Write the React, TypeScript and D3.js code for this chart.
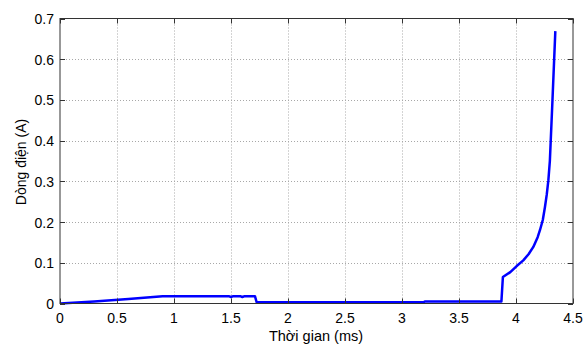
import React from "react";
import * as d3 from "d3";

const timeMs: number[] = [0, 0.3, 0.6, 0.9, 1.2, 1.48, 1.5, 1.52, 1.58, 1.6, 1.62, 1.68, 1.71, 1.725, 2.0, 2.5, 3.0, 3.19, 3.2, 3.5, 3.872, 3.885, 3.95, 4.006, 4.064, 4.11, 4.152, 4.19, 4.21, 4.235, 4.254, 4.27, 4.284, 4.297, 4.32, 4.345];
const currentA: number[] = [0, 0.005, 0.011, 0.018, 0.018, 0.018, 0.016, 0.018, 0.018, 0.016, 0.018, 0.018, 0.018, 0.003, 0.003, 0.003, 0.003, 0.003, 0.005, 0.005, 0.005, 0.065, 0.077, 0.092, 0.106, 0.121, 0.139, 0.163, 0.18, 0.205, 0.237, 0.268, 0.303, 0.35, 0.5, 0.669];
const xTicks: number[] = [0, 0.5, 1, 1.5, 2, 2.5, 3, 3.5, 4, 4.5];
const yTicks: number[] = [0, 0.1, 0.2, 0.3, 0.4, 0.5, 0.6, 0.7];
const xLabel = "Thời gian (ms)";
const yLabel = "Dòng điện (A)";

export default function App() {
  const W = 583, H = 345;
  const L = 60, R = 573, T = 18.5, B = 303.5;
  const x = d3.scaleLinear().domain([0, 4.5]).range([L, R]);
  const y = d3.scaleLinear().domain([0, 0.7]).range([B, T]);
  const pts: [number, number][] = timeMs.map((t, i) => [t, currentA[i]]);
  const line = d3.line<[number, number]>().x(d => x(d[0])).y(d => y(d[1]));
  const font = "'Liberation Sans', Arial, sans-serif";
  const tickLen = 5;
  return (
    <svg width={W} height={H} style={{ position: "absolute", left: 0, top: 0, background: "#fff" }}>
      <rect x={0} y={0} width={W} height={H} fill="#fff" />
      <g stroke="#a8a8a8" strokeWidth={1} strokeDasharray="1,2">
        {xTicks.slice(1, -1).map(t => (
          <line key={"gx" + t} x1={Math.round(x(t)) + 0.5} x2={Math.round(x(t)) + 0.5} y1={T} y2={B} />
        ))}
        {yTicks.slice(1, -1).map(t => (
          <line key={"gy" + t} x1={L} x2={R} y1={Math.round(y(t)) + 0.5} y2={Math.round(y(t)) + 0.5} />
        ))}
      </g>
      <path d={line(pts) || ""} fill="none" stroke="#0000ff" strokeWidth={2.5} strokeLinejoin="round" />
      <rect x={L} y={T} width={R - L} height={B - T} fill="none" stroke="#333" strokeWidth={1} />
      <g stroke="#333" strokeWidth={1}>
        {xTicks.map(t => {
          const px = Math.round(x(t)) + 0.5;
          return (
            <g key={"tx" + t}>
              <line x1={px} x2={px} y1={B} y2={B - tickLen} />
              <line x1={px} x2={px} y1={T} y2={T + tickLen} />
            </g>
          );
        })}
        {yTicks.map(t => {
          const py = Math.round(y(t)) + 0.5;
          return (
            <g key={"ty" + t}>
              <line x1={L} x2={L + tickLen} y1={py} y2={py} />
              <line x1={R} x2={R - tickLen} y1={py} y2={py} />
            </g>
          );
        })}
      </g>
      <g fontFamily={font} fontSize={14} fill="#000">
        {xTicks.map(t => (
          <text key={"lx" + t} x={x(t)} y={323} textAnchor="middle">{String(t)}</text>
        ))}
        {yTicks.map(t => (
          <text key={"ly" + t} x={54} y={y(t) + 5.5} textAnchor="end">{String(t)}</text>
        ))}
        <text x={316} y={341} textAnchor="middle" fontSize={14.5}>{xLabel}</text>
        <text transform={`translate(26,${162}) rotate(-90)`} textAnchor="middle">{yLabel}</text>
      </g>
    </svg>
  );
}
